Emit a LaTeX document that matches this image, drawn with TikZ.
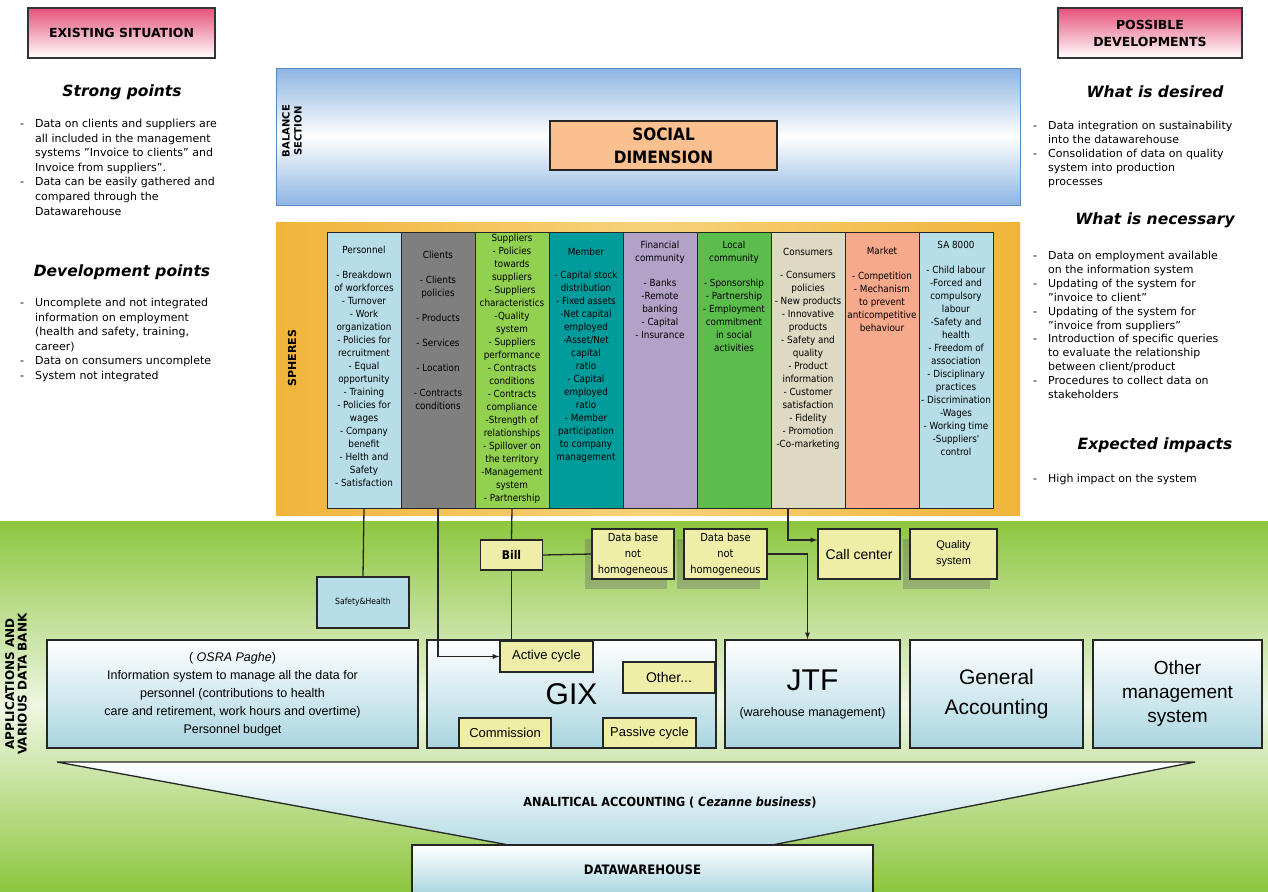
\documentclass[tikz,border=0pt]{standalone}
\usepackage{fontspec}
\setmainfont{DejaVu Sans}
\newfontfamily\condfont{DejaVu Sans Condensed}
\newfontfamily\arialfont{Liberation Sans}
\usetikzlibrary{positioning}
\usetikzlibrary{shadows}
\definecolor{head-pink}{HTML}{E8507A}
\definecolor{balance-blue}{HTML}{8DB4E2}
\definecolor{balance-edge}{HTML}{5A8AC6}
\definecolor{sphere-orange}{HTML}{F0B43A}
\definecolor{sphere-light}{HTML}{F8D27A}
\definecolor{social-peach}{HTML}{FAC090}
\definecolor{pers-blue}{HTML}{B7DDE8}
\definecolor{client-gray}{HTML}{7F7F7F}
\definecolor{supp-green}{HTML}{92D050}
\definecolor{member-teal}{HTML}{009C9C}
\definecolor{fin-lilac}{HTML}{B3A2C7}
\definecolor{local-green}{HTML}{5BBD4C}
\definecolor{cons-beige}{HTML}{DDD9C3}
\definecolor{market-salmon}{HTML}{F7A98C}
\definecolor{bg-green}{HTML}{8DC63F}
\definecolor{app-blue}{HTML}{A9D5E0}
\definecolor{box-yellow}{HTML}{EEEEA8}
\newcommand{\contline}{\hphantom{-}\quad}

\tikzset{
  headbox/.style={draw=black!80, line width=1.2pt, top color=head-pink, bottom color=white, align=center, font=\bfseries\fontsize{12.5}{17}\selectfont},
  heading/.style={font=\bfseries\itshape\fontsize{15.5}{18}\selectfont},
  notes/.style={align=left, anchor=north west, inner sep=0pt, font=\fontsize{11}{14.6}\selectfont},
  sphere/.style={draw=black!85, line width=0.9pt, minimum width=74, minimum height=276, inner sep=0pt},
  spheretext/.style={anchor=north, align=center, inner sep=0pt, font=\condfont\fontsize{9.8}{13}\selectfont},
  ybox/.style={draw=black!85, line width=1.3pt, fill=box-yellow, align=center, inner sep=1pt, font=\arialfont\fontsize{13}{15}\selectfont},
  appbox/.style={draw=black!85, line width=1.5pt, top color=white, bottom color=app-blue, align=center, inner sep=2pt, minimum height=108},
  link/.style={draw=black!85, line width=1.3pt},
  sidelabel/.style={rotate=90, align=center, font=\bfseries\fontsize{10}{12}\selectfont},
  dbshadow/.style={drop shadow={shadow xshift=-7pt, shadow yshift=-10pt, opacity=0.35, fill=black!60}}
}

\begin{document}
\begin{tikzpicture}[x=1pt, y=-1pt]
\useasboundingbox (0,0) rectangle (1268,891);
\fill[white] (0,0) rectangle (1268,891);
\fill[top color=bg-green, bottom color=bg-green, middle color=white!85!bg-green] (0,521) rectangle (1268,891);

% existing situation
\node[headbox, minimum width=187, minimum height=50] (existing) at (121.5,33) {EXISTING SITUATION};
\node[heading] (strong) at (122,92) {Strong points};
\node[notes] (strong-list) at (20,119) {%
-\quad Data on clients and suppliers are\\
\contline all included in the management\\
\contline systems "Invoice to clients" and\\
\contline Invoice from suppliers".\\
-\quad Data can be easily gathered and\\
\contline compared through the\\
\contline Datawarehouse};
\node[heading] (devel) at (122,272) {Development points};
\node[notes] (devel-list) at (20,298) {%
-\quad Uncomplete and not integrated\\
\contline information on employment\\
\contline (health and safety, training,\\
\contline career)\\
-\quad Data on consumers uncomplete\\
-\quad System not integrated};

% possible developments
\node[headbox, minimum width=184, minimum height=50] (possible) at (1150,33) {POSSIBLE\\DEVELOPMENTS};
\node[heading] (desired) at (1155,92) {What is desired};
\node[notes, font=\fontsize{11}{13.9}\selectfont] (desired-list) at (1033,121) {%
-\quad Data integration on sustainability\\
\contline into the datawarehouse\\
-\quad Consolidation of data on quality\\
\contline system into production\\
\contline processes};
\node[heading] (necessary) at (1155,220) {What is necessary};
\node[notes, font=\fontsize{11}{13.9}\selectfont] (necessary-list) at (1033,251) {%
-\quad Data on employment available\\
\contline on the information system\\
-\quad Updating of the system for\\
\contline "invoice to client"\\
-\quad Updating of the system for\\
\contline "invoice from suppliers"\\
-\quad Introduction of specific queries\\
\contline to evaluate the relationship\\
\contline between client/product\\
-\quad Procedures to collect data on\\
\contline stakeholders};
\node[heading] (impacts) at (1155,445) {Expected impacts};
\node[notes] (impacts-list) at (1033,474) {-\quad High impact on the system};

% balance section
\node[draw=balance-edge, line width=1pt, top color=balance-blue, bottom color=balance-blue, middle color=white, minimum width=744, minimum height=137] (balance) at (648,136.5) {};
\node[sidelabel] (balance-label) at (292,131) {BALANCE\\SECTION};
\node[draw=black!85, line width=1.3pt, fill=social-peach, minimum width=227, minimum height=49, align=center, font=\condfont\bfseries\fontsize{17}{23}\selectfont] (social) at (663.5,145.5) {SOCIAL\\DIMENSION};

% spheres
\node[left color=sphere-orange, right color=sphere-orange, middle color=sphere-light, minimum width=744, minimum height=293] (spheres) at (648,368.5) {};
\node[sidelabel, font=\bfseries\fontsize{11}{12}\selectfont] (spheres-label) at (292,358) {SPHERES};
\foreach \cname/\fillc/\ytop/\txt [count=\i] in {
  personnel/pers-blue/246/{Personnel\\[12pt]- Breakdown\\of workforces\\- Turnover\\- Work\\organization\\- Policies for\\recruitment\\- Equal\\opportunity\\- Training\\- Policies for\\wages\\- Company\\benefit\\- Helth and\\Safety\\- Satisfaction},
  clients/client-gray/251/{Clients\\[12pt]- Clients\\policies\\[12pt]- Products\\[12pt]- Services\\[12pt]- Location\\[12pt]- Contracts\\conditions},
  suppliers/supp-green/234/{Suppliers\\- Policies\\towards\\suppliers\\- Suppliers\\characteristics\\-Quality\\system\\- Suppliers\\performance\\- Contracts\\conditions\\- Contracts\\compliance\\-Strength of\\relationships\\- Spillover on\\the territory\\-Management\\system\\- Partnership},
  member/member-teal/248/{Member\\[10pt]- Capital stock\\distribution\\- Fixed assets\\-Net capital\\employed\\-Asset/Net\\capital\\ratio\\- Capital\\employed\\ratio\\- Member\\participation\\to company\\management},
  financial/fin-lilac/241/{Financial\\community\\[12pt]- Banks\\-Remote\\banking\\- Capital\\- Insurance},
  local/local-green/241/{Local\\community\\[12pt]- Sponsorship\\- Partnership\\- Employment\\commitment\\in social\\activities},
  consumers/cons-beige/248/{Consumers\\[10pt]- Consumers\\policies\\- New products\\- Innovative\\products\\- Safety and\\quality\\- Product\\information\\- Customer\\satisfaction\\- Fidelity\\- Promotion\\-Co-marketing},
  market/market-salmon/247/{Market\\[12pt]- Competition\\- Mechanism\\to prevent\\anticompetitive\\behaviour},
  sa8000/pers-blue/241/{SA 8000\\[12pt]- Child labour\\-Forced and\\compulsory\\labour\\-Safety and\\health\\- Freedom of\\association\\- Disciplinary\\practices\\- Discrimination\\-Wages\\- Working time\\-Suppliers'\\control}%
}{
  \node[sphere, fill=\fillc] (\cname) at ({364+74*(\i-1)},370) {};
  \node[spheretext] (\cname-txt) at ({364+74*(\i-1)},\ytop) {\txt};
}

% applications and data bank
\node[sidelabel, font=\bfseries\fontsize{12}{12.5}\selectfont] (apps-label) at (16,684) {APPLICATIONS AND\\VARIOUS DATA BANK};
\node[draw=black!85, line width=1.3pt, fill=pers-blue, minimum width=92, minimum height=51, font=\condfont\fontsize{8.5}{10}\selectfont] (safety) at (363,602.5) {Safety\&Health};
\node[ybox, font=\condfont\bfseries\fontsize{12}{14}\selectfont, minimum width=62, minimum height=30] (bill) at (511.5,555) {Bill};
\node[ybox, dbshadow, font=\condfont\fontsize{11}{16}\selectfont, minimum width=82, minimum height=50] (db1) at (633,554) {Data base\\not\\homogeneous};
\node[ybox, dbshadow, font=\condfont\fontsize{11}{16}\selectfont, minimum width=83, minimum height=50] (db2) at (725.5,554) {Data base\\not\\homogeneous};
\node[ybox, font=\arialfont\fontsize{14}{16}\selectfont, minimum width=82, minimum height=50] (callcenter) at (859,554) {Call center};
\node[ybox, dbshadow, font=\arialfont\fontsize{11}{16}\selectfont, minimum width=87, minimum height=50] (quality) at (953.5,554) {Quality\\system};

\node[appbox, minimum width=371, font=\arialfont\fontsize{12.5}{18}\selectfont] (osra) at (232.5,694) {( {\itshape OSRA Paghe})\\Information system to manage all the data for\\personnel (contributions to health\\care and retirement, work hours and overtime)\\Personnel budget};
\node[appbox, minimum width=289, font=\arialfont\fontsize{30}{32}\selectfont] (gix) at (571.5,694) {\raisebox{-3pt}{GIX}};
\node[ybox, minimum width=93, minimum height=31] (active) at (546.5,656.5) {Active cycle};
\node[ybox, minimum width=92, minimum height=31, font=\arialfont\fontsize{14}{16}\selectfont] (other) at (669,677.5) {Other...};
\node[ybox, minimum width=92, minimum height=30] (commission) at (505,733) {Commission};
\node[ybox, minimum width=93, minimum height=30] (passive) at (649.5,733) {Passive cycle};
\node[appbox, minimum width=175, font=\arialfont\fontsize{30}{30}\selectfont] (jtf) at (812.5,694) {JTF\\[-4pt]{\fontsize{12.5}{14}\selectfont(warehouse management)}};
\node[appbox, minimum width=173, font=\arialfont\fontsize{21}{30}\selectfont] (genacc) at (996.5,694) {General\\Accounting};
\node[appbox, minimum width=169, font=\arialfont\fontsize{19}{24}\selectfont] (othermgmt) at (1177.5,694) {Other\\management\\system};

% analytical accounting and datawarehouse
\draw[link, top color=white, bottom color=app-blue!85] (57,762) -- (1195,762) -- (772,845) -- (509,845) -- cycle;
\node[font=\condfont\bfseries\fontsize{12.5}{14}\selectfont] (analytical) at (670,803) {ANALITICAL ACCOUNTING ( {\itshape Cezanne business})};
\node[appbox, minimum width=461, minimum height=50, font=\condfont\bfseries\fontsize{13}{15}\selectfont] (dwh) at (642.5,870) {DATAWAREHOUSE};

% connectors
\draw[link] (personnel.south) -- (safety.north);
\draw[link, -latex] (clients.south) |- (active.west);
\draw[link] (suppliers.south) -- (bill.north);
\draw[link] (bill.south) -- (bill.south |- active.north);
\draw[link] (bill.east) -- (db1.west);
\draw[link, -latex] (db2.east) -| ([xshift=-5pt]jtf.north);
\draw[link, -latex] ([xshift=-20pt]consumers.south) |- ([yshift=14pt]callcenter.west);
\end{tikzpicture}
\end{document}
